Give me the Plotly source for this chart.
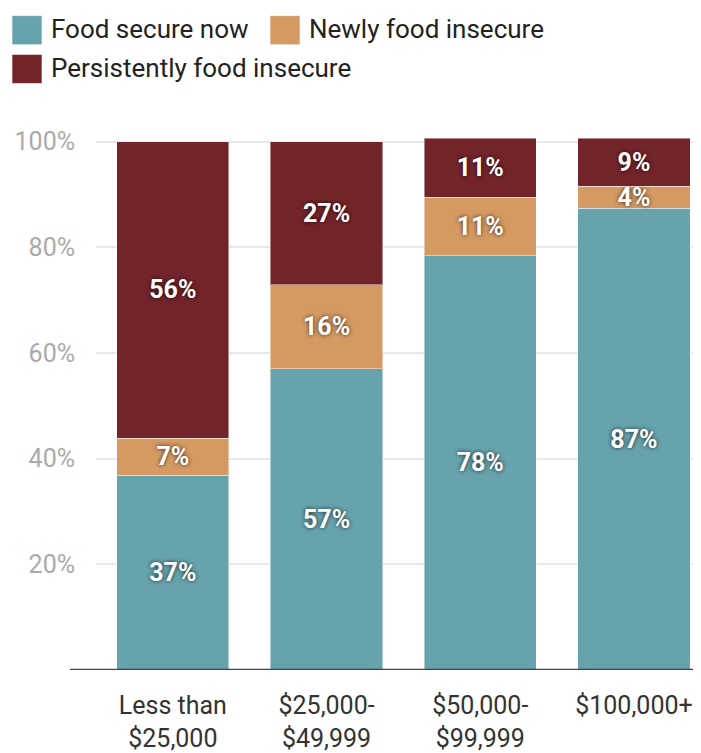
import plotly.graph_objects as go

categories = ["Less than<br>$25,000", "$25,000-<br>$49,999", "$50,000-<br>$99,999", "$100,000+"]
series_names = ["Food secure now", "Newly food insecure", "Persistently food insecure"]
food_secure_now = [36.9, 57.0, 78.4, 87.4]
newly_food_insecure = [7.0, 15.9, 11.1, 4.1]
persistently_food_insecure = [56.1, 27.1, 11.1, 9.1]
colors = ["#67a3ad", "#d59a62", "#72242a"]
y_ticks = [20, 40, 60, 80, 100]
y_tick_labels = ["20%", "40%", "60%", "80%", "100%"]

# page body has an 8px margin; figure sized so the page fits the 701x753 window.
OFF = 8
W, H = 701 - OFF, 753 - OFF
ML, MR, MT = 96 - OFF, 0, 131 - OFF
MB = 66
PW, PH = W - ML - MR, H - MT - MB
CAT_W = 153.7  # pixel width of one category slot

def px(x):
    return (x - OFF - ML) / PW

def py(y):
    return (H - MB - (y - OFF)) / PH

fig = go.Figure()
for name, vals, col in zip(series_names, [food_secure_now, newly_food_insecure, persistently_food_insecure], colors):
    fig.add_trace(go.Bar(
        x=categories, y=vals, name=name, showlegend=False,
        marker=dict(color=col, line=dict(color="rgba(255,255,255,0.45)", width=1)),
        texttemplate="%{y:.0f}%", textposition="inside", insidetextanchor="middle",
        textfont=dict(family="Roboto", size=25, color="white", weight="bold",
                      shadow="0px 0px 4px rgba(0,0,0,0.75)"),
        constraintext="none", cliponaxis=False,
    ))

# custom legend (large square swatches)
legend_pos = [(12, 12), (270, 12), (12, 52)]
shapes = []
annotations = []
for (lx, ly), name, col in zip(legend_pos, series_names, colors):
    shapes.append(dict(type="rect", xref="paper", yref="paper",
                       x0=px(lx), x1=px(lx + 30), y0=py(ly + 30), y1=py(ly),
                       fillcolor=col, line=dict(color="rgba(255,255,255,0.6)", width=1)))
    annotations.append(dict(xref="paper", yref="paper", x=px(lx + 37), y=py(ly + 14),
                            text=name, showarrow=False, xanchor="left", yanchor="middle",
                            font=dict(family="Roboto", size=26, color="#222222")))

# baseline
shapes.append(dict(type="line", xref="paper", yref="y", x0=px(70), x1=1, y0=0, y1=0,
                   line=dict(color="#444444", width=2.5)))

fig.update_layout(
    width=W, height=H,
    margin=dict(l=ML, r=MR, t=MT, b=MB, pad=0),
    barmode="stack", bargap=0.27,
    plot_bgcolor="white", paper_bgcolor="white",
    uniformtext=dict(minsize=25, mode="show"),
    shapes=shapes, annotations=annotations,
    showlegend=False,
    font=dict(family="Roboto"),
)
fig.update_xaxes(showgrid=False, showline=False, ticks="",
                 range=[-0.5, -0.5 + PW / CAT_W],
                 tickfont=dict(family="Roboto", size=25, color="#333333"),
                 ticklabelstandoff=18)
fig.update_yaxes(range=[0, 102], tickvals=y_ticks, ticktext=y_tick_labels,
                 showgrid=True, gridcolor="#e8e8e8", gridwidth=1.5,
                 zeroline=False, showline=False, ticks="",
                 tickfont=dict(family="Roboto", size=25, color="#aaaaaa"),
                 ticklabelstandoff=20)

fig.write_html("out.html")
